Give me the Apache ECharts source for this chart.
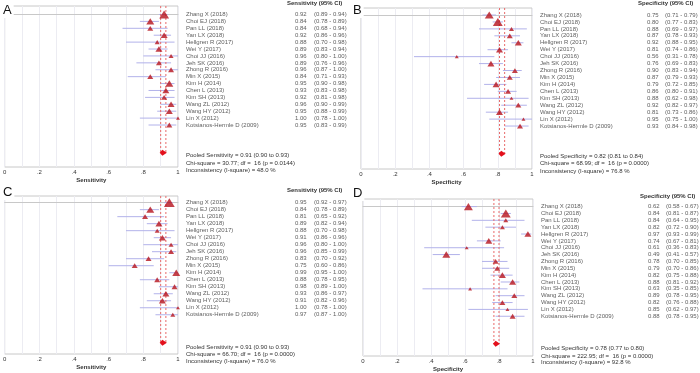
<!DOCTYPE html>
<html>
<head>
<meta charset="utf-8">
<script src="https://cdn.jsdelivr.net/npm/echarts@6/dist/echarts.min.js"></script>
<style>
  html, body { margin: 0; padding: 0; background: #fff; }
  #chart { width: 700px; height: 373px; }
</style>
</head>
<body>
<div id="chart"></div>
<script>
// studies, same order in all four panels
const studies = ['Zhang X (2018)', 'Choi EJ (2018)', 'Pan LL (2018)', 'Yan LX (2018)', 'Hellgren R (2017)',
  'Wei Y (2017)', 'Choi JJ (2016)', 'Jeh SK (2016)', 'Zhong R (2016)', 'Min X (2015)', 'Kim H (2014)',
  'Chen L (2013)', 'Kim SH (2013)', 'Wang ZL (2012)', 'Wang HY (2012)', 'Lin X (2012)', 'Kotsianos-Hermle D (2009)'];

const tickLabels = ['0', '.2', '.4', '.6', '.8', '1'];

// A - sensitivity
const estA = [0.92, 0.84, 0.84, 0.92, 0.88, 0.89, 0.96, 0.89, 0.96, 0.84, 0.95, 0.93, 0.92, 0.96, 0.95, 1.00, 0.95];
const loA  = [0.89, 0.78, 0.68, 0.86, 0.70, 0.83, 0.80, 0.76, 0.87, 0.71, 0.90, 0.83, 0.81, 0.90, 0.88, 0.78, 0.83];
const hiA  = [0.94, 0.89, 0.94, 0.96, 0.98, 0.94, 1.00, 0.96, 1.00, 0.93, 0.98, 0.98, 0.98, 0.99, 0.99, 1.00, 0.99];
const wtA  = [13, 7.5, 3.3, 5.2, 1.9, 5.2, 1.9, 3.3, 3.3, 3.3, 7.5, 5.2, 3.3, 5.2, 5.2, 0.8, 3.3];
const pooledA = [0.91, 0.90, 0.93];
const statsA = ['30.77', '16', '0.0144', '48.0'];

// B - specificity
const estB = [0.75, 0.80, 0.88, 0.87, 0.92, 0.81, 0.56, 0.76, 0.90, 0.87, 0.79, 0.86, 0.88, 0.92, 0.81, 0.95, 0.93];
const loB  = [0.71, 0.77, 0.69, 0.78, 0.88, 0.74, 0.31, 0.69, 0.83, 0.79, 0.72, 0.80, 0.62, 0.82, 0.73, 0.75, 0.84];
const hiB  = [0.79, 0.83, 0.97, 0.93, 0.95, 0.86, 0.78, 0.83, 0.94, 0.93, 0.85, 0.91, 0.98, 0.97, 0.86, 1.00, 0.98];
const wtB  = [10, 13, 1.9, 3.3, 5.2, 5.2, 0.8, 5.2, 3.3, 3.3, 5.2, 3.3, 0.8, 3.3, 5.2, 0.8, 3.3];
const pooledB = [0.82, 0.81, 0.84];
const statsB = ['68.99', '16', '0.0000', '76.8'];

// C - sensitivity
const estC = [0.95, 0.84, 0.81, 0.89, 0.88, 0.91, 0.96, 0.96, 0.83, 0.75, 0.99, 0.88, 0.98, 0.93, 0.91, 1.00, 0.97];
const loC  = [0.92, 0.78, 0.65, 0.82, 0.70, 0.86, 0.80, 0.85, 0.70, 0.60, 0.95, 0.78, 0.89, 0.86, 0.82, 0.78, 0.87];
const hiC  = [0.97, 0.89, 0.92, 0.94, 0.98, 0.96, 1.00, 0.99, 0.92, 0.86, 1.00, 0.95, 1.00, 0.97, 0.96, 1.00, 1.00];
const wtC  = [16, 7.5, 3.3, 5.2, 1.9, 5.2, 1.9, 3.3, 3.3, 3.3, 7.5, 3.3, 3.3, 5.2, 5.2, 0.8, 1.9];
const pooledC = [0.91, 0.90, 0.93];
const statsC = ['66.70', '16', '0.0000', '76.0'];

// D - specificity
const estD = [0.62, 0.84, 0.84, 0.82, 0.97, 0.74, 0.61, 0.49, 0.78, 0.79, 0.82, 0.88, 0.63, 0.89, 0.82, 0.85, 0.88];
const loD  = [0.58, 0.81, 0.64, 0.72, 0.93, 0.67, 0.36, 0.41, 0.70, 0.70, 0.75, 0.81, 0.35, 0.78, 0.76, 0.62, 0.78];
const hiD  = [0.67, 0.87, 0.95, 0.90, 0.99, 0.81, 0.83, 0.57, 0.85, 0.86, 0.88, 0.92, 0.85, 0.95, 0.88, 0.97, 0.95];
const wtD  = [10, 13, 1.9, 1.9, 5.2, 5.2, 0.8, 7.5, 3.3, 3.3, 5.2, 5.2, 0.8, 3.3, 3.3, 0.8, 3.3];
const pooledD = [0.78, 0.77, 0.80];
const statsD = ['222.95', '16', '0.0000', '92.8'];

const POOLED_ROW = 20;
const FONT = 'Liberation Sans, Arial, sans-serif';
const TXT = '#333';

const panels = [
  {letter: 'A', name: 'Sensitivity', est: estA, lo: loA, hi: hiA, wt: wtA, pooled: pooledA, stats: statsA,
    left: 3, right: 178, top: 6, bottom: 167, yMin: -1.23, yMax: 22.08,
    valDx: 117, ciDx: 136, headX: 287, headY: 3.5, footY: [155, 163, 170], letterX: 3, letterY: 4},
  {letter: 'B', name: 'Specificity', est: estB, lo: loB, hi: hiB, wt: wtB, pooled: pooledB, stats: statsB,
    left: 361, right: 532, top: 8, bottom: 169, yMin: -1.01, yMax: 22.19,
    valDx: 115, ciDx: 133, headX: 638, headY: 3.5, footY: [156, 163, 171], letterX: 353, letterY: 4},
  {letter: 'C', name: 'Sensitivity', est: estC, lo: loC, hi: hiC, wt: wtC, pooled: pooledC, stats: statsC,
    left: 3, right: 178, top: 196, bottom: 354, yMin: -0.95, yMax: 21.6,
    valDx: 117, ciDx: 136, headX: 287, headY: 190, footY: [347, 354, 361], letterX: 3, letterY: 186},
  {letter: 'D', name: 'Specificity', est: estD, lo: loD, hi: hiD, wt: wtD, pooled: pooledD, stats: statsD,
    left: 363, right: 533, top: 199, bottom: 358, yMin: -1.11, yMax: 21.8,
    valDx: 115, ciDx: 133, headX: 640, headY: 196, footY: [348, 356, 362], letterX: 353, letterY: 187}
];

const markSize = w => 2 + Math.sqrt(w) * 2.2;

const grids = [], xAxes = [], yAxes = [], series = [], graphics = [];

panels.forEach((p, i) => {
  grids.push({left: p.left, top: p.top, width: p.right - p.left, height: p.bottom - p.top,
    show: true, borderColor: '#c8c8c8', borderWidth: 1, backgroundColor: '#fff'});

  xAxes.push({
    gridIndex: i, type: 'value', min: 0, max: 1, interval: 0.1,
    axisLine: {show: true, lineStyle: {color: '#c8c8c8'}},
    axisTick: {show: false},
    splitLine: {show: true, lineStyle: {color: '#ececf2', width: 1}},
    axisLabel: {margin: 2, fontSize: 6, color: TXT, fontFamily: FONT,
      formatter: v => {
        const k = Math.round(v * 10);
        return k % 2 ? '' : tickLabels[k / 2];
      }},
    name: p.name, nameLocation: 'middle', nameGap: 10,
    nameTextStyle: {fontSize: 6, fontWeight: 'bold', color: TXT, fontFamily: FONT}
  });
  yAxes.push({gridIndex: i, type: 'value', min: p.yMin, max: p.yMax, inverse: true, show: false});

  const ax = {xAxisIndex: i, yAxisIndex: i};

  // confidence intervals
  series.push(Object.assign({
    type: 'custom', silent: true, z: 2,
    data: studies.map((s, j) => [p.lo[j], p.hi[j], j]),
    encode: {x: [0, 1], y: 2},
    renderItem: (params, api) => {
      const a = api.coord([api.value(0), api.value(2)]);
      const b = api.coord([api.value(1), api.value(2)]);
      return {type: 'line', shape: {x1: a[0], y1: a[1], x2: b[0], y2: b[1]},
        style: {stroke: '#b2b2ea', lineWidth: 1}};
    }
  }, ax));

  // dashed lines at pooled CI bounds
  series.push(Object.assign({
    type: 'custom', silent: true, z: 3,
    data: [[p.pooled[1]], [p.pooled[2]]],
    encode: {x: 0},
    renderItem: (params, api) => {
      const a = api.coord([api.value(0), p.yMin]);
      const b = api.coord([api.value(0), POOLED_ROW]);
      return {type: 'line', shape: {x1: a[0], y1: a[1], x2: b[0], y2: b[1]},
        style: {stroke: '#e86a6a', lineWidth: 1, lineDash: [2, 2]}};
    }
  }, ax));

  // study estimates
  series.push(Object.assign({
    type: 'scatter', symbol: 'triangle', silent: true, z: 4,
    data: studies.map((s, j) => [p.est[j], j, p.wt[j]]),
    symbolSize: d => { const s = markSize(d[2]); return [s, s * 0.8]; },
    itemStyle: {color: '#b5121c'}
  }, ax));

  // pooled diamond
  series.push(Object.assign({
    type: 'custom', silent: true, z: 5,
    data: [[p.pooled[0], p.pooled[1], p.pooled[2], POOLED_ROW]],
    encode: {x: [0, 1, 2], y: 3},
    renderItem: (params, api) => {
      const c = api.coord([api.value(0), api.value(3)]);
      const l = api.coord([api.value(1), api.value(3)]);
      const r = api.coord([api.value(2), api.value(3)]);
      return {type: 'polygon',
        shape: {points: [[l[0] - 1, c[1]], [c[0], c[1] - 3], [r[0] + 1, c[1]], [c[0], c[1] + 3]]},
        style: {fill: '#e3101c'}};
    }
  }, ax));

  // table text to the right of each plot
  const cols = [
    {dx: 8, fmt: j => studies[j]},
    {dx: p.valDx, fmt: j => p.est[j].toFixed(2)},
    {dx: p.ciDx, fmt: j => '(' + p.lo[j].toFixed(2) + ' - ' + p.hi[j].toFixed(2) + ')'}
  ];
  cols.forEach(col => {
    series.push(Object.assign({
      type: 'scatter', symbolSize: 0, silent: true, clip: false, z: 6,
      data: studies.map((s, j) => [1, j]),
      label: {show: true, position: [col.dx, 0], align: 'left', verticalAlign: 'middle',
        fontSize: 6, color: TXT, fontFamily: FONT,
        formatter: prm => col.fmt(prm.dataIndex)}
    }, ax));
  });

  // header, footer and panel letter
  graphics.push({type: 'text', x: p.headX, y: p.headY, z: 100,
    style: {text: p.name + ' (95% CI)', font: 'bold 6px ' + FONT, fill: TXT, textVerticalAlign: 'middle'}});
  const foot = [
    'Pooled ' + p.name + ' = ' + p.pooled[0].toFixed(2) + ' (' + p.pooled[1].toFixed(2) + ' to ' + p.pooled[2].toFixed(2) + ')',
    'Chi-square = ' + p.stats[0] + '; df =  ' + p.stats[1] + ' (p = ' + p.stats[2] + ')',
    'Inconsistency (I-square) = ' + p.stats[3] + ' %'
  ];
  foot.forEach((t, k) => {
    graphics.push({type: 'text', x: p.right + 8, y: p.footY[k], z: 100,
      style: {text: t, font: '6px ' + FONT, fill: TXT, textVerticalAlign: 'middle'}});
  });
  graphics.push({type: 'text', x: p.letterX, y: p.letterY, z: 100,
    style: {text: p.letter, font: '13px ' + FONT, fill: '#111', backgroundColor: '#fff', padding: [0, 2, 1, 0]}});
});

const chart = echarts.init(document.getElementById('chart'));
chart.setOption({
  animation: false,
  textStyle: {fontFamily: FONT},
  grid: grids,
  xAxis: xAxes,
  yAxis: yAxes,
  series: series,
  graphic: graphics
});
</script>
</body>
</html>
